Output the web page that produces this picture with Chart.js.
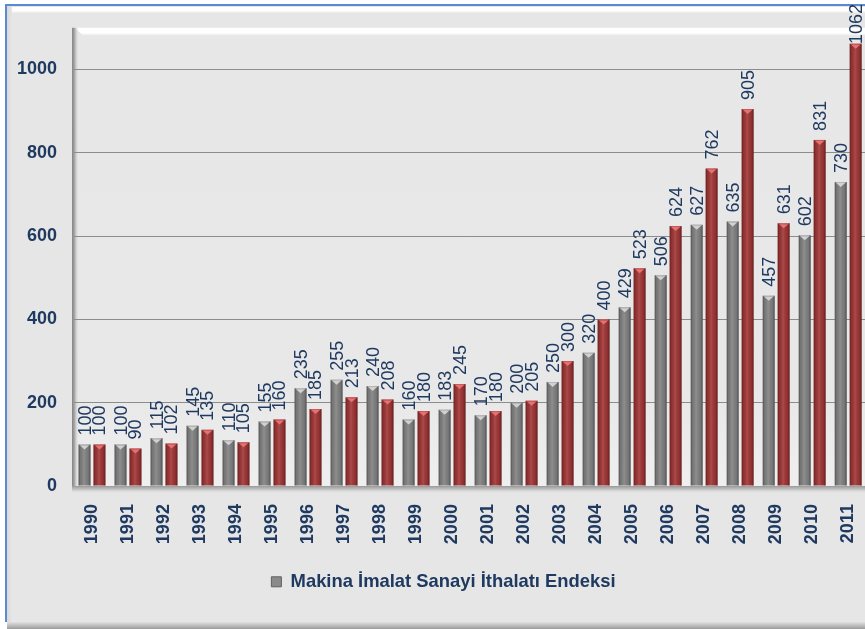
<!DOCTYPE html>
<html><head><meta charset="utf-8">
<script src="https://cdn.jsdelivr.net/npm/chart.js@4.4.0/dist/chart.umd.min.js"></script>
<style>
html,body{margin:0;padding:0;width:865px;height:629px;overflow:hidden;background:#fff;}
#frame{position:absolute;left:5px;top:4px;width:900px;height:616px;border-left:2px solid #5a8ad0;border-top:2px solid #5a8ad0;
 background:linear-gradient(to right,#d8d8d8 0,#e6e6e6 5px,#e6e6e6 100%);}
#band{position:absolute;left:12px;top:7px;width:900px;height:6px;background:linear-gradient(to bottom,#ffffff 0,#ffffff 60%,#e9e9e9 100%);}
#bottom{position:absolute;left:7px;top:622px;width:900px;height:7px;background:linear-gradient(to bottom,#e0e0e0 0,#b8b8b8 60%,#9a9a9a 100%);}
#wrap{position:absolute;left:0;top:0;width:880px;height:629px;}
</style></head><body>
<div id="frame"></div><div id="band"></div><div id="bottom"></div>
<div id="wrap"><canvas id="c" width="880" height="629"></canvas></div>
<script>
const years = ['1990','1991','1992','1993','1994','1995','1996','1997','1998','1999','2000','2001','2002','2003','2004','2005','2006','2007','2008','2009','2010','2011'];
const grayValues = [100,100,115,145,110,155,235,255,240,160,183,170,200,250,320,429,506,627,635,457,602,730];
const redValues = [100,90,102,135,105,160,185,213,208,180,245,180,205,300,400,523,624,762,905,631,831,1062];
const grayName = 'Makina İmalat Sanayi İthalatı Endeksi';
const redName = 'Makina İmalat Sanayi Endeksi (2)';
const yTicks = [0,200,400,600,800,1000];

const TEXT = '#1f3a60';
const FONT = '"Liberation Sans", Arial, sans-serif';

const wallPlugin = {
  id: 'wall',
  beforeDraw(chart) {
    const {ctx} = chart; const {left, top, right, bottom} = chart.chartArea;
    ctx.save();
    let g = ctx.createLinearGradient(0, top, 0, bottom);
    g.addColorStop(0, '#e7e7e7'); g.addColorStop(0.8, '#e8e8e8'); g.addColorStop(1, '#efefef');
    ctx.fillStyle = g; ctx.fillRect(left, top, right - left, bottom - top);
    g = ctx.createLinearGradient(0, top, 0, top + 8);
    g.addColorStop(0, '#ffffff'); g.addColorStop(0.65, '#ffffff'); g.addColorStop(1, 'rgba(255,255,255,0)');
    ctx.fillStyle = g;
    ctx.beginPath(); ctx.moveTo(left + 1, top); ctx.lineTo(right + 20, top); ctx.lineTo(right + 20, top + 8); ctx.lineTo(left + 9, top + 8); ctx.closePath(); ctx.fill();
    g = ctx.createLinearGradient(left - 2, 0, left + 5, 0);
    g.addColorStop(0, 'rgba(120,120,120,0.9)'); g.addColorStop(0.35, 'rgba(150,150,150,0.8)'); g.addColorStop(1, 'rgba(230,230,230,0)');
    ctx.fillStyle = g; ctx.fillRect(left - 2, top, 7, bottom - top + 4);
    ctx.restore();
  },
  afterDatasetsDraw(chart) {
    const {ctx} = chart; const {left, right, bottom} = chart.chartArea;
    ctx.save();
    const g = ctx.createLinearGradient(0, bottom, 0, bottom + 7);
    g.addColorStop(0, '#9c9c9c'); g.addColorStop(0.5, '#c4c4c4'); g.addColorStop(1, 'rgba(230,230,230,0)');
    ctx.fillStyle = g; ctx.fillRect(left - 2, bottom, right - left + 20, 7);
    ctx.restore();
  }
};

const barStyle = {
  id: 'barStyle',
  afterDatasetsDraw(chart) {
    const {ctx} = chart;
    ctx.save();
    chart.data.datasets.forEach((ds, di) => {
      const meta = chart.getDatasetMeta(di);
      meta.data.forEach((el) => {
        const {x, y, base, width} = el.getProps(['x', 'y', 'base', 'width'], true);
        const l = x - width / 2, r = x + width / 2;
        const g = ctx.createLinearGradient(l, 0, r, 0);
        g.addColorStop(0, 'rgba(0,0,0,0.35)');
        g.addColorStop(0.18, 'rgba(0,0,0,0.05)');
        g.addColorStop(0.45, 'rgba(255,255,255,0.12)');
        g.addColorStop(0.8, 'rgba(0,0,0,0.06)');
        g.addColorStop(1, 'rgba(0,0,0,0.38)');
        ctx.fillStyle = g; ctx.fillRect(l, y, width, base - y);
        ctx.fillStyle = di === 0 ? '#d2d2d2' : '#e67373';
        ctx.beginPath(); ctx.moveTo(l + 1.5, y + 1); ctx.lineTo(r - 1.5, y + 1); ctx.lineTo(x, y + 5); ctx.closePath(); ctx.fill();
        ctx.fillStyle = di === 0 ? 'rgba(200,200,200,0.8)' : 'rgba(215,100,100,0.8)';
        ctx.fillRect(l + 1, y, width - 2, 1);
      });
    });
    ctx.restore();
  }
};

const valueLabels = {
  id: 'valueLabels',
  afterDraw(chart) {
    const {ctx} = chart;
    ctx.save();
    ctx.font = '18px ' + FONT;
    ctx.fillStyle = TEXT;
    ctx.textAlign = 'left'; ctx.textBaseline = 'middle';
    chart.data.datasets.forEach((ds, di) => {
      const meta = chart.getDatasetMeta(di);
      meta.data.forEach((el, i) => {
        const {x, y} = el.getProps(['x', 'y'], true);
        const txt = String(ds.data[i]);
        const w = ctx.measureText(txt).width;
        let start = y - 9;
        if (start - w < 4) start = 4 + w;
        ctx.save(); ctx.translate(x, start); ctx.rotate(-Math.PI / 2);
        ctx.fillText(txt, 0, 1); ctx.restore();
      });
    });
    ctx.restore();
  }
};

new Chart(document.getElementById('c'), {
  type: 'bar',
  data: {
    labels: years,
    datasets: [
      {label: grayName, data: grayValues, backgroundColor: '#808080', borderWidth: 0, barPercentage: 0.8, categoryPercentage: 0.83},
      {label: redName, data: redValues, backgroundColor: '#9e3434', borderWidth: 0, barPercentage: 0.8, categoryPercentage: 0.83}
    ]
  },
  options: {
    responsive: false, animation: false, devicePixelRatio: 1,
    layout: {padding: {top: 25, right: 9, left: 16, bottom: 28}},
    plugins: {
      tooltip: {enabled: false},
      legend: {
        position: 'bottom',
        labels: {
          font: {family: FONT, size: 18.4, weight: 'bold'}, color: TEXT,
          boxWidth: 10, boxHeight: 10, padding: 10,
          generateLabels: (chart) => [{text: grayName, fillStyle: '#8a8a8a', strokeStyle: '#606060', lineWidth: 1, datasetIndex: 0, fontColor: TEXT}]
        }
      }
    },
    scales: {
      x: {
        grid: {display: false}, border: {display: false},
        ticks: {font: {family: FONT, size: 18, weight: 'bold'}, color: TEXT, maxRotation: 90, minRotation: 90, padding: 10, autoSkip: false},
        afterFit: (s) => { s.height = 76.5; }
      },
      y: {
        min: 0, max: 1100,
        grid: {color: '#8c8c8c', lineWidth: 1, drawTicks: false}, border: {display: false},
        ticks: {stepSize: 200, font: {family: FONT, size: 18, weight: 'bold'}, color: TEXT, padding: 17, callback: (v) => String(v)},
        afterBuildTicks: (s) => { s.ticks = yTicks.map(v => ({value: v})); },
        afterFit: (s) => { s.width = 58; }
      }
    }
  },
  plugins: [wallPlugin, barStyle, valueLabels]
});
</script>
</body></html>
